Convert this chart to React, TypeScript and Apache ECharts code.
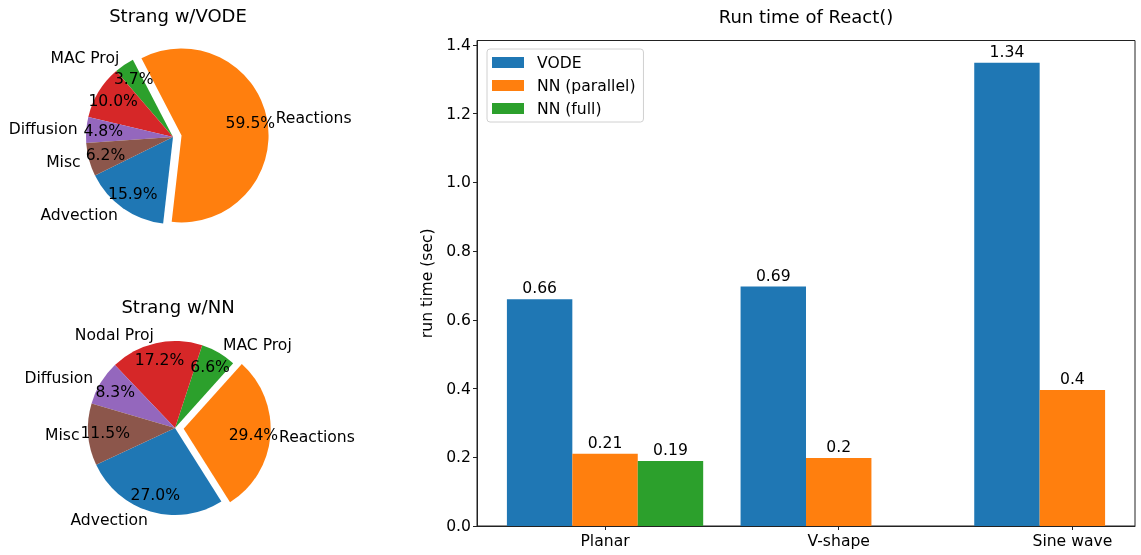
import React, { useEffect, useRef } from "react";
import * as echarts from "echarts";

// ---- Pie data ----
const pieNames = ["Advection", "Reactions", "MAC Proj", "Nodal Proj", "Diffusion", "Misc"];
const pieColors = ["#1f77b4", "#ff7f0e", "#2ca02c", "#d62728", "#9467bd", "#8c564b"];
const vodeShares = [15.9, 59.5, 3.7, 10.0, 4.8, 6.2];
const nnShares = [27.0, 29.4, 6.6, 17.2, 8.3, 11.5];
const explodedSlice = "Reactions";
const pieTitles = ["Strang w/VODE", "Strang w/NN"];

// ---- Bar data ----
const cases = ["Planar", "V-shape", "Sine wave"];
const seriesNames = ["VODE", "NN (parallel)", "NN (full)"];
const vodeTimes = [0.66, 0.697, 1.348];
const nnParallelTimes = [0.21, 0.198, 0.396];
const nnFullTimes: (number | null)[] = [0.189, null, null];
const vodeLabels = ["0.66", "0.69", "1.34"];
const nnParallelLabels = ["0.21", "0.2", "0.4"];
const nnFullLabels = ["0.19", "", ""];
const barColors = ["#1f77b4", "#ff7f0e", "#2ca02c"];

const FONT = "DejaVu Sans";
const FS = 15.6;
const W = 1141;
const H = 555;

// layout
const R = 87;
const PCT_DIST = 0.77;
const GRID_LEFT = 477;
const GRID_RIGHT = 6;
const GRID_TOP = 40.5;
const GRID_BOTTOM = 29;
const BAR_W_UNITS = 0.28;
const X_MIN = -0.548;
const X_MAX = 2.268;

function pieSeries(shares: number[], center: number[], startAngle: number) {
  const data = pieNames.map((name, i) => ({
    name,
    value: shares[i],
    selected: name === explodedSlice,
    itemStyle: { color: pieColors[i] },
  }));
  const common: any = {
    type: "pie",
    center,
    startAngle,
    clockwise: false,
    selectedMode: "single",
    selectedOffset: 0.1 * R,
    avoidLabelOverlap: false,
    silent: true,
    animation: false,
    emphasis: { disabled: true },
    select: { itemStyle: { borderWidth: 0 } },
  };
  return [
    {
      ...common,
      radius: R,
      data,
      itemStyle: { borderWidth: 0 },
      label: {
        show: true,
        position: "outside",
        formatter: "{b}",
        fontSize: FS,
        fontFamily: FONT,
        color: "#000",
        distanceToLabelLine: 0,
        bleedMargin: 0,
        overflow: "none",
      },
      labelLine: { show: false, length: 0.1 * R, length2: 0 },
    },
    {
      ...common,
      radius: 2 * PCT_DIST * R,
      z: 3,
      data: data.map((d) => ({ ...d, itemStyle: { color: "rgba(0,0,0,0)" } })),
      itemStyle: { borderWidth: 0, color: "rgba(0,0,0,0)" },
      label: {
        show: true,
        position: "inside",
        formatter: (p: any) => p.value.toFixed(1) + "%",
        fontSize: FS,
        fontFamily: FONT,
        color: "#000",
      },
      labelLine: { show: false },
    },
  ];
}

export default function App() {
  const ref = useRef<HTMLDivElement>(null);
  useEffect(() => {
    if (!ref.current) return;
    const chart = echarts.init(ref.current, undefined, { renderer: "svg" });
    const gridW = W - GRID_LEFT - GRID_RIGHT;
    const barWidth = (BAR_W_UNITS * gridW) / (X_MAX - X_MIN);
    const idx = cases.map((_, i) => i);
    const valueSets = [vodeTimes, nnParallelTimes, nnFullTimes];
    const labelSets = [vodeLabels, nnParallelLabels, nnFullLabels];

    const barSeries = seriesNames.map((name, s) => ({
      type: "bar",
      name,
      xAxisIndex: 0,
      yAxisIndex: 0,
      barWidth,
      barGap: "0%",
      itemStyle: { color: barColors[s] },
      data: idx
        .filter((i) => valueSets[s][i] !== null)
        .map((i) => [i, valueSets[s][i]]),
      label: {
        show: true,
        position: "top",
        distance: 3,
        fontSize: FS,
        fontFamily: FONT,
        color: "#000",
        formatter: (p: any) => labelSets[s][Math.round(p.value[0])],
      },
      emphasis: { disabled: true },
    }));

    const option: any = {
      animation: false,
      textStyle: { fontFamily: FONT },
      graphic: [
        {
          type: "text",
          x: 178,
          y: 15,
          style: { text: pieTitles[0], align: "center", verticalAlign: "middle", fontSize: 18, fontFamily: FONT, fill: "#000" },
        },
        {
          type: "text",
          x: 178,
          y: 306,
          style: { text: pieTitles[1], align: "center", verticalAlign: "middle", fontSize: 18, fontFamily: FONT, fill: "#000" },
        },
        {
          type: "text",
          x: GRID_LEFT + gridW / 2,
          y: 16,
          style: { text: "Run time of React()", align: "center", verticalAlign: "middle", fontSize: 18, fontFamily: FONT, fill: "#000" },
        },
      ],
      legend: {
        data: seriesNames,
        orient: "vertical",
        left: 487,
        top: 49,
        icon: "rect",
        itemWidth: 32,
        itemHeight: 11,
        itemGap: 7,
        padding: [5.5, 8, 5.5, 5],
        borderColor: "#d0d0d0",
        borderWidth: 1,
        borderRadius: 3,
        backgroundColor: "rgba(255,255,255,0.8)",
        selectedMode: false,
        textStyle: { fontSize: FS, fontFamily: FONT, color: "#000", lineHeight: 16, padding: [0, 0, 0, 8] },
      },
      grid: {
        left: GRID_LEFT,
        right: GRID_RIGHT,
        top: GRID_TOP,
        bottom: GRID_BOTTOM,
        show: true,
        borderColor: "#222",
        borderWidth: 1,
        containLabel: false,
      },
      xAxis: {
        type: "value",
        min: X_MIN,
        max: X_MAX,
        splitLine: { show: false },
        axisLine: { show: true, onZero: false, lineStyle: { color: "#222", width: 1 } },
        axisTick: { show: true, customValues: idx, length: 4, lineStyle: { color: "#222" } },
        axisLabel: {
          customValues: idx,
          formatter: (v: number) => cases[Math.round(v)] ?? "",
          fontSize: FS,
          fontFamily: FONT,
          color: "#000",
          margin: 7,
        },
      },
      yAxis: {
        type: "value",
        min: 0,
        max: 1.413,
        interval: 0.2,
        splitLine: { show: false },
        axisLine: { show: true, onZero: false, lineStyle: { color: "#222", width: 1 } },
        axisTick: { show: true, length: 4, lineStyle: { color: "#222" } },
        axisLabel: {
          formatter: (v: number) => v.toFixed(1),
          fontSize: FS,
          fontFamily: FONT,
          color: "#000",
          margin: 6,
          showMaxLabel: false,
        },
        name: "run time (sec)",
        nameLocation: "middle",
        nameGap: 42,
        nameTextStyle: { fontSize: FS, fontFamily: FONT, color: "#000" },
      },
      series: [
        ...pieSeries(vodeShares, [173, 137], 206.3),
        ...pieSeries(nnShares, [175, 428], 205),
        ...barSeries,
      ],
    };
    chart.setOption(option);
    return () => chart.dispose();
  }, []);
  return <div ref={ref} style={{ position: "fixed", left: 0, top: 0, width: W, height: H }} />;
}
